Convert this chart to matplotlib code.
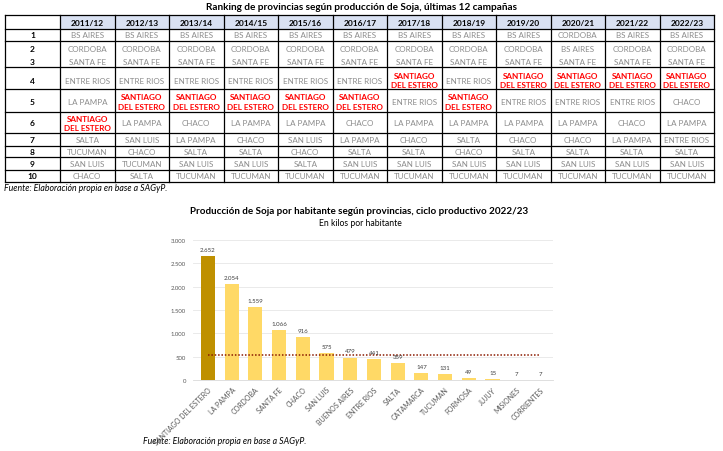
import matplotlib.pyplot as plt
from matplotlib.patches import Rectangle

plt.rcParams['font.family'] = ['Lato', 'DejaVu Sans']

# --- ranking table data ---
campanas = ['2011/12', '2012/13', '2013/14', '2014/15', '2015/16', '2016/17',
            '2017/18', '2018/19', '2019/20', '2020/21', '2021/22', '2022/23']
puestos = ['1', '2', '3', '4', '5', '6', '7', '8', '9', '10']

SDE = 'SANTIAGO\nDEL ESTERO'
ranking = [
    ['BS AIRES', 'CORDOBA', 'SANTA FE', 'ENTRE RIOS', 'LA PAMPA', SDE, 'SALTA', 'TUCUMAN', 'SAN LUIS', 'CHACO'],
    ['BS AIRES', 'CORDOBA', 'SANTA FE', 'ENTRE RIOS', SDE, 'LA PAMPA', 'SAN LUIS', 'CHACO', 'TUCUMAN', 'SALTA'],
    ['BS AIRES', 'CORDOBA', 'SANTA FE', 'ENTRE RIOS', SDE, 'CHACO', 'LA PAMPA', 'SALTA', 'SAN LUIS', 'TUCUMAN'],
    ['BS AIRES', 'CORDOBA', 'SANTA FE', 'ENTRE RIOS', SDE, 'LA PAMPA', 'CHACO', 'SALTA', 'SAN LUIS', 'TUCUMAN'],
    ['BS AIRES', 'CORDOBA', 'SANTA FE', 'ENTRE RIOS', SDE, 'LA PAMPA', 'SAN LUIS', 'CHACO', 'SALTA', 'TUCUMAN'],
    ['BS AIRES', 'CORDOBA', 'SANTA FE', 'ENTRE RIOS', SDE, 'CHACO', 'LA PAMPA', 'SALTA', 'SAN LUIS', 'TUCUMAN'],
    ['BS AIRES', 'CORDOBA', 'SANTA FE', SDE, 'ENTRE RIOS', 'LA PAMPA', 'CHACO', 'SALTA', 'SAN LUIS', 'TUCUMAN'],
    ['BS AIRES', 'CORDOBA', 'SANTA FE', 'ENTRE RIOS', SDE, 'LA PAMPA', 'SALTA', 'CHACO', 'SAN LUIS', 'TUCUMAN'],
    ['BS AIRES', 'CORDOBA', 'SANTA FE', SDE, 'ENTRE RIOS', 'LA PAMPA', 'CHACO', 'SALTA', 'SAN LUIS', 'TUCUMAN'],
    ['CORDOBA', 'BS AIRES', 'SANTA FE', SDE, 'ENTRE RIOS', 'LA PAMPA', 'CHACO', 'SALTA', 'SAN LUIS', 'TUCUMAN'],
    ['BS AIRES', 'CORDOBA', 'SANTA FE', SDE, 'ENTRE RIOS', 'CHACO', 'LA PAMPA', 'SALTA', 'SAN LUIS', 'TUCUMAN'],
    ['BS AIRES', 'CORDOBA', 'SANTA FE', SDE, 'CHACO', 'LA PAMPA', 'ENTRE RIOS', 'SALTA', 'SAN LUIS', 'TUCUMAN'],
]

# --- bar chart data ---
provincias = ['SANTIAGO DEL ESTERO', 'LA PAMPA', 'CORDOBA', 'SANTA FE', 'CHACO', 'SAN LUIS',
              'BUENOS AIRES', 'ENTRE RIOS', 'SALTA', 'CATAMARCA', 'TUCUMAN', 'FORMOSA',
              'JUJUY', 'MISIONES', 'CORRIENTES']
kilos = [2652, 2054, 1559, 1066, 916, 575, 479, 441, 359, 147, 131, 49, 15, 7, 7]
promedio = 530
y_ticks = [0, 500, 1000, 1500, 2000, 2500, 3000]

fuente = 'Fuente: Elaboración propia en base a SAGyP.'

fig = plt.figure(figsize=(7.23, 4.52), dpi=100)

# ---------- table, drawn in pixel coordinates ----------
tab = fig.add_axes([0, 0, 1, 1])
tab.set_xlim(0, 723)
tab.set_ylim(452, 0)
tab.axis('off')

x0, first_w, col_w = 5, 55, 54.5
col_edges = [x0, x0 + first_w] + [x0 + first_w + col_w * (i + 1) for i in range(len(campanas))]
# box boundaries (ranks 2 and 3 share one box)
box_edges = [16, 30, 42, 68, 90, 113, 134, 147, 158, 171, 183]
row_centers = [36, 49.5, 62.5, 81, 102.5, 124, 140.5, 152.5, 164.5, 177]
header_c = 23

tab.text(361, 7, 'Ranking de provincias según producción de Soja, últimas 12 campañas',
         ha='center', va='center', fontsize=7.2, fontweight='bold')

# header background
for j in range(len(campanas)):
    tab.add_patch(Rectangle((col_edges[j + 1], box_edges[0]), col_w, box_edges[1] - box_edges[0],
                            facecolor='#d9e1f2', edgecolor='none'))

for y in box_edges:
    tab.plot([col_edges[0], col_edges[-1]], [y, y], color='black', lw=0.9)
for x in col_edges:
    tab.plot([x, x], [box_edges[0], box_edges[-1]], color='black', lw=0.9)

for j, c in enumerate(campanas):
    cx = (col_edges[j + 1] + col_edges[j + 2]) / 2
    tab.text(cx, header_c, c, ha='center', va='center', fontsize=6, fontweight='bold')

for i, p in enumerate(puestos):
    tab.text((col_edges[0] + col_edges[1]) / 2, row_centers[i], p, ha='center', va='center',
             fontsize=6, fontweight='bold')
    for j in range(len(campanas)):
        cx = (col_edges[j + 1] + col_edges[j + 2]) / 2
        name = ranking[j][i]
        if name == SDE:
            tab.text(cx, row_centers[i], name, ha='center', va='center', fontsize=5.9,
                     fontweight='bold', color='#ff0000', linespacing=1.45)
        else:
            tab.text(cx, row_centers[i], name, ha='center', va='center', fontsize=5.8,
                     color='#8c8c8c')

tab.text(4, 189, fuente, ha='left', va='center', fontsize=6.3, style='italic')

# chart titles
tab.text(359, 212, 'Producción de Soja por habitante según provincias, ciclo productivo 2022/23',
         ha='center', va='center', fontsize=7.1, fontweight='bold')
tab.text(360, 224, 'En kilos por habitante', ha='center', va='center', fontsize=6.2)
tab.text(143, 442, fuente, ha='left', va='center', fontsize=6.3, style='italic')

# ---------- bar chart ----------
ax = fig.add_axes([193 / 723, (452 - 381) / 452, 360 / 723, 140 / 452])
x = list(range(len(provincias)))
colors = ['#bf9000'] + ['#ffd966'] * (len(provincias) - 1)
ax.bar(x, kilos, width=0.6, color=colors, zorder=2)
ax.plot([x[0], x[-1]], [promedio, promedio], color='#8b1a00', lw=1.1, ls=(0, (1, 1.2)), zorder=3)

for xi, v in zip(x, kilos):
    ax.annotate(f'{v:,}'.replace(',', '.'), (xi, v), xytext=(0, 3), textcoords='offset points',
                ha='center', va='bottom', fontsize=4.4, color='#404040')

ax.set_xlim(-0.63, 14.55)
ax.set_ylim(0, 3000)
ax.set_yticks(y_ticks)
ax.set_yticklabels([f'{t:,}'.replace(',', '.') for t in y_ticks], fontsize=4.3, color='#595959')
ax.set_xticks(x)
ax.set_xticklabels(provincias, rotation=45, ha='right', rotation_mode='anchor',
                   fontsize=5.0, color='#595959')
ax.tick_params(axis='y', length=0, pad=5)
ax.tick_params(axis='x', length=0, pad=4)
ax.grid(axis='y', color='#e6e6e6', lw=0.6, zorder=0)
for s in ['top', 'right', 'left']:
    ax.spines[s].set_visible(False)
ax.spines['bottom'].set_color('#d9d9d9')
ax.spines['bottom'].set_linewidth(0.6)

fig.savefig('out.png', dpi=100)
